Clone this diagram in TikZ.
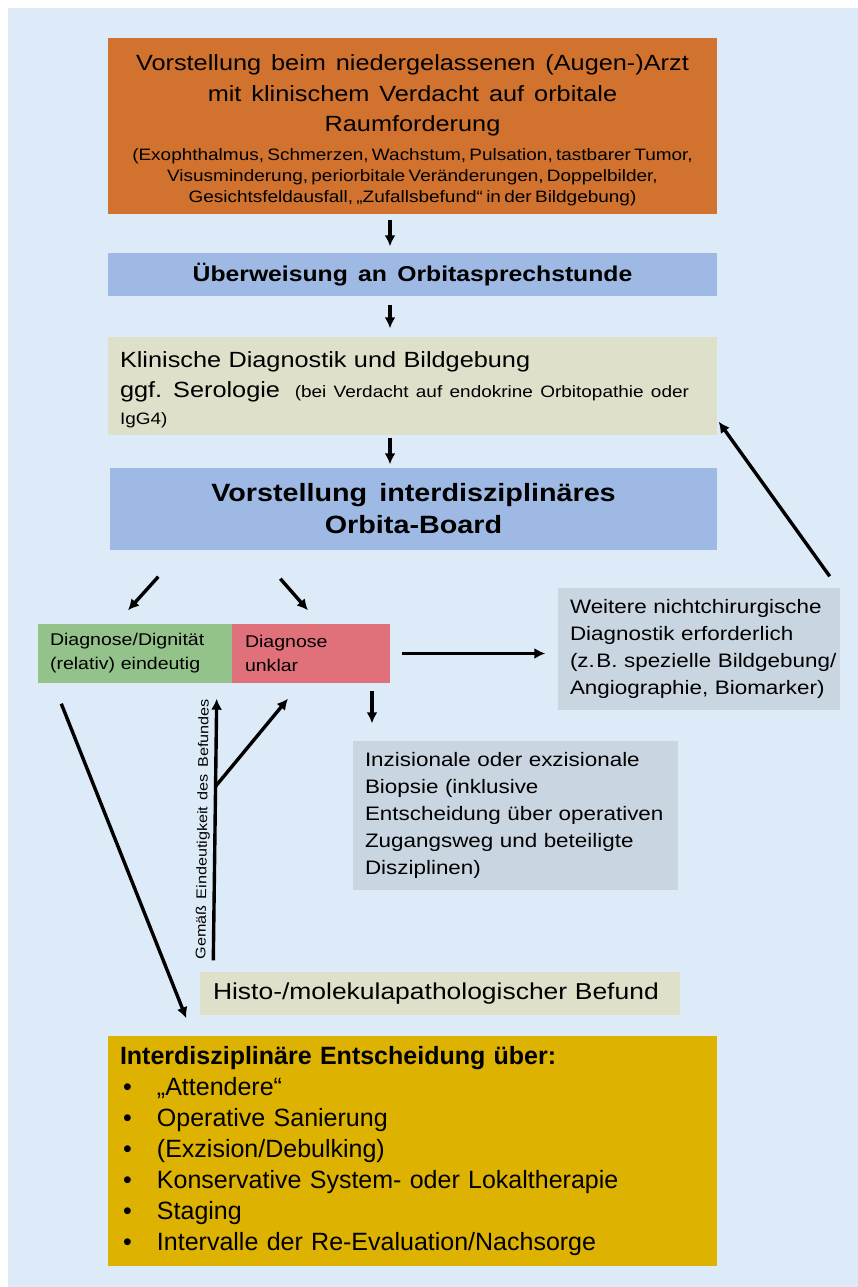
\documentclass[tikz,border=0pt]{standalone}
\usepackage{fontspec}
\setmainfont[FakeStretch=1.15, WordSpace=1.5]{Liberation Sans}
\newfontfamily\narrowfont[WordSpace=1.5]{Liberation Sans}
\usepackage{tikz}
\usetikzlibrary{arrows.meta}

\definecolor{bgblue}{HTML}{DDEAF7}
\definecolor{arztorange}{HTML}{D1732F}
\definecolor{boardblue}{HTML}{9EB9E3}
\definecolor{klinbeige}{HTML}{DFE0CA}
\definecolor{eindgreen}{HTML}{93C38A}
\definecolor{unklred}{HTML}{E0717A}
\definecolor{weitgrey}{HTML}{C9D5E1}
\definecolor{entschyellow}{HTML}{DDB200}

\begin{document}
\begin{tikzpicture}[x=1pt, y=-1pt, >={Latex[length=11pt,width=11pt]}, line width=3.4pt,
  box/.style={inner sep=0pt, text=black},
  lbox/.style={box, align=left},
  cbox/.style={box, align=center}]
  \useasboundingbox (0,0) rectangle (858,1287);
  \fill[bgblue] (8,8) rectangle (858,1287);

  \node (arzt) [cbox, fill=arztorange, minimum width=609pt, minimum height=176pt, text width=595pt] at (412.5,126)
  {{\fontsize{22}{30.5}\selectfont\spaceskip=0.45em \rule{0pt}{25pt}Vorstellung beim niedergelassenen (Augen-)Arzt\\ mit klinischem Verdacht auf orbitale\\ Raumforderung\par}
   \vspace{8pt}
   {\fontsize{16.5}{21}\selectfont (Exophthalmus, Schmerzen, Wachstum, Pulsation, tastbarer Tumor,\\ Visusminderung, periorbitale Veränderungen, Doppelbilder,\\ Gesichtsfeldausfall, „Zufallsbefund“ in der Bildgebung)\par}};
  \node (ueber) [cbox, fill=boardblue, minimum width=609pt, minimum height=43pt, font=\bfseries\fontsize{21.5}{25}\selectfont] at (412.5,274.5)
  {Überweisung an Orbitasprechstunde};
  \node (klin) [lbox, fill=klinbeige, minimum width=609pt, minimum height=98pt, text width=585pt, font=\fontsize{22}{27}\selectfont] at (412.5,386)
  {\rule{0pt}{24pt}Klinische Diagnostik und Bildgebung\\[3pt] ggf. Serologie {\fontsize{16.5}{27}\selectfont\ (bei Verdacht auf endokrine Orbitopathie oder\\ IgG4)}\par};
  \node (board) [cbox, fill=boardblue, minimum width=607pt, minimum height=82pt, font=\bfseries\fontsize{25}{32}\selectfont] at (413.5,509)
  {Vorstellung interdisziplinäres\\ Orbita-Board};

  \node (eind) [lbox, fill=eindgreen, minimum width=194pt, minimum height=59pt, text width=170pt, font=\fontsize{17}{24}\selectfont] at (135,653.5)
  {Diagnose/Dignität\\ (relativ) eindeutig\par};
  \node (unkl) [lbox, fill=unklred, minimum width=158pt, minimum height=59pt, text width=132pt, font=\fontsize{17}{24}\selectfont] at (311,653.5)
  {Diagnose\\ unklar\par};
  \node (weit) [lbox, fill=weitgrey, minimum width=282pt, minimum height=122pt, text width=258pt, font=\fontsize{19.5}{27}\selectfont] at (699,649)
  {Weitere nichtchirurgische\\ Diagnostik erforderlich\\ \mbox{(z.\kern1.5pt B. spezielle Bildgebung/}\\ Angiographie, Biomarker)\par};
  \node (biop) [lbox, fill=weitgrey, minimum width=325pt, minimum height=149pt, text width=301pt, font=\fontsize{19.5}{27}\selectfont] at (515.5,815.5)
  {Inzisionale oder exzisionale\\ Biopsie (inklusive\\ Entscheidung über operativen\\ Zugangsweg und beteiligte\\ Disziplinen)\par};
  \node (histo) [lbox, fill=klinbeige, minimum width=480pt, minimum height=43pt, text width=454pt, font=\fontsize{23}{27}\selectfont] at (440,993.5)
  {Histo-/molekulapathologischer Befund\par};
  \node (entsch) [lbox, fill=entschyellow, minimum width=609pt, minimum height=230pt, text width=585pt, font=\narrowfont\fontsize{25}{31}\selectfont] at (412.5,1151)
  {{\bfseries Interdisziplinäre Entscheidung über:}\\
   \hspace*{3pt}\makebox[34pt][l]{\textbullet}„Attendere“\\
   \hspace*{3pt}\makebox[34pt][l]{\textbullet}Operative Sanierung\\
   \hspace*{3pt}\makebox[34pt][l]{\textbullet}(Exzision/Debulking)\\
   \hspace*{3pt}\makebox[34pt][l]{\textbullet}Konservative System- oder Lokaltherapie\\
   \hspace*{3pt}\makebox[34pt][l]{\textbullet}Staging\\
   \hspace*{3pt}\makebox[34pt][l]{\textbullet}Intervalle der Re-Evaluation/Nachsorge\par};

  \coordinate (split) at (215,787);

  \path[->]
  ([xshift=-22.5pt]arzt.south) edge [shorten <=4pt, shorten >=5pt] ([xshift=-22.5pt]ueber.north)
  ([xshift=-22.5pt]ueber.south) edge [shorten <=7pt, shorten >=7pt] ([xshift=-22.5pt]klin.north)
  ([xshift=-22.5pt]klin.south) edge [shorten <=1pt, shorten >=2pt] ([xshift=-23.5pt]board.north)
  ([xshift=50pt,yshift=-25pt]board.south west) edge ([xshift=-7pt,yshift=12pt]eind.north)
  ([xshift=172pt,yshift=-27pt]board.south west) edge ([xshift=-3pt,yshift=12pt]unkl.north)
  (unkl.east) edge [shorten <=10pt, shorten >=11pt] (unkl.east -| weit.west)
  ([xshift=-143.5pt,yshift=48pt]biop.north) edge [shorten >=16pt] ([xshift=-143.5pt]biop.north)
  ([xshift=-12pt,yshift=10pt]weit.north east) edge ([yshift=15pt]klin.south east)
  ([xshift=25pt,yshift=-19pt]eind.south west) edge ([xshift=80pt,yshift=16pt]entsch.north west)
  ([xshift=15pt,yshift=10pt]histo.north west) edge node [midway, sloped, above, font=\fontsize{14}{16}\selectfont] {Gemäß Eindeutigkeit des Befundes} ([xshift=-17pt,yshift=-14pt]eind.south east)
  (split) edge ([xshift=-23pt,yshift=-14pt]unkl.south)
  ;
\end{tikzpicture}
\end{document}
